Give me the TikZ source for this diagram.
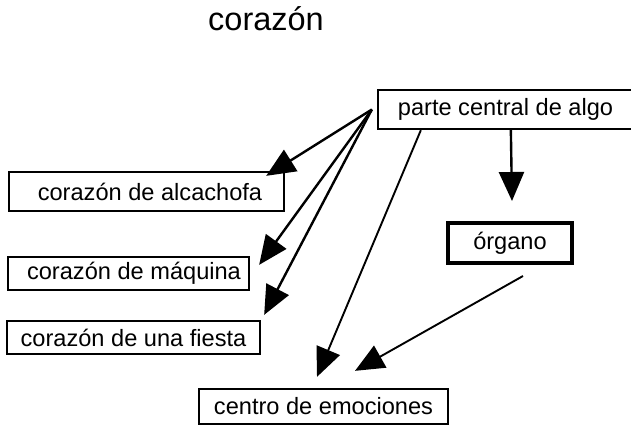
\documentclass[tikz,border=0pt]{standalone}
\usepackage{fontspec}
\setmainfont{Liberation Sans}
\usetikzlibrary{arrows.meta}
\begin{document}
\begin{tikzpicture}[x=1pt,y=-1pt,
  box/.style={draw=black,line width=2.3pt,inner sep=0pt,font=\fontsize{23.6}{28}\selectfont},
  thickbox/.style={box,line width=4pt},
  arr/.style={line width=2.4pt,-{Triangle[length=29pt,width=25pt]}},
  thinarr/.style={arr,line width=1.9pt}]
\useasboundingbox (0,0) rectangle (631,426);
\node[font=\fontsize{32.5}{38}\selectfont, anchor=base] (title) at (266,30) {corazón};
\node[box,minimum width=255pt,minimum height=39pt] (parte) at (505.5,109.5) {parte central de algo};
\node[box,minimum width=275pt,minimum height=39pt] (alc) at (146.5,191.5) {\hspace{7pt}corazón de alcachofa};
\node[box,minimum width=241pt,minimum height=33pt] (maq) at (128.5,273.5) {\hspace{11pt}corazón de máquina};
\node[box,minimum width=253pt,minimum height=33pt] (fie) at (133.5,337.5) {corazón de una fiesta\hspace{9pt}};
\node[thickbox,minimum width=124pt,minimum height=40pt] (org) at (510,243) {órgano\hspace{12pt}};
\node[box,minimum width=249pt,minimum height=35pt] (cen) at (323.5,406.5) {centro de emociones\hspace{5pt}};
\coordinate (fan) at ([xshift=-5pt]parte.west);
\draw[arr] (fan) -- ([xshift=-19pt,yshift=-5pt]alc.north east);
\draw[arr] (fan) -- ([xshift=9pt,yshift=-9pt]maq.north east);
\draw[arr] (fan) -- ([xshift=3pt,yshift=5pt]fie.north east);
\draw[thinarr] ([xshift=44pt]parte.south west) -- ([xshift=-6.5pt,yshift=11pt]cen.north);
\draw[arr] ([xshift=134pt]parte.south west) -- ([xshift=2pt,yshift=20pt]org.north);
\draw[thinarr] ([xshift=13pt,yshift=-11pt]org.south) -- ([xshift=31.5pt,yshift=17pt]cen.north);
\end{tikzpicture}
\end{document}
